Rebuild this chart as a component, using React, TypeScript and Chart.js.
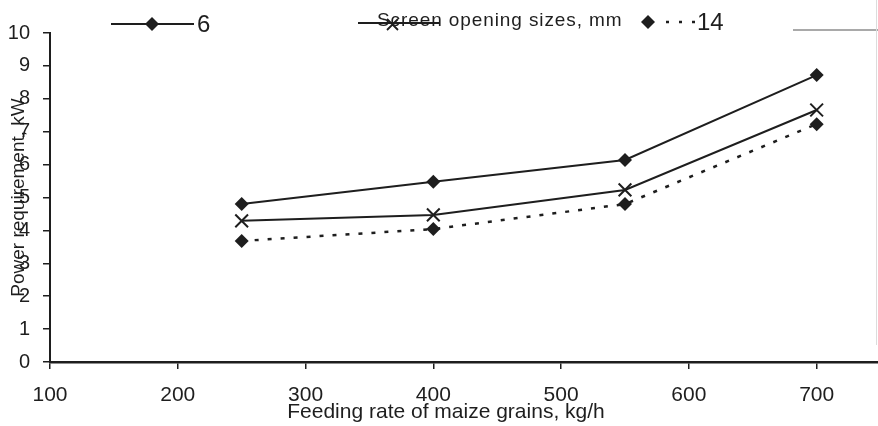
import React, { useEffect, useRef } from "react";
import { Chart, registerables } from "chart.js";

Chart.register(...registerables);

const feedRates = [250, 400, 550, 700];
const power6 = [4.8, 5.48, 6.14, 8.72];
const power10 = [4.29, 4.47, 5.23, 7.66];
const power14 = [3.68, 4.04, 4.8, 7.23];
const seriesLabels = ["6", "10", "14"];
const legendTitle = "Screen opening sizes, mm";
const xTitle = "Feeding rate of maize grains, kg/h";
const yTitle = "Power requirement, kW";

const INK = "#1e1e1e";
const FONT = '"Liberation Sans", Arial, sans-serif';

function diamond(ctx: CanvasRenderingContext2D, x: number, y: number, r: number) {
  ctx.beginPath();
  ctx.moveTo(x, y - r);
  ctx.lineTo(x + r, y);
  ctx.lineTo(x, y + r);
  ctx.lineTo(x - r, y);
  ctx.closePath();
  ctx.fillStyle = INK;
  ctx.fill();
}

const legendPlugin = {
  id: "customLegend",
  afterDraw(chart: any) {
    const ctx: CanvasRenderingContext2D = chart.ctx;
    ctx.save();
    ctx.strokeStyle = INK;
    ctx.fillStyle = INK;
    const y = 24;
    // series 6
    ctx.lineWidth = 2;
    ctx.beginPath();
    ctx.moveTo(111, y);
    ctx.lineTo(194, y);
    ctx.stroke();
    diamond(ctx, 152, y, 7);
    ctx.font = `24px ${FONT}`;
    ctx.textBaseline = "middle";
    ctx.textAlign = "left";
    ctx.fillText(seriesLabels[0], 197, y + 1);
    // series 10
    ctx.lineWidth = 2;
    ctx.beginPath();
    ctx.moveTo(358, 23);
    ctx.lineTo(440, 23);
    ctx.stroke();
    ctx.lineWidth = 1.8;
    ctx.beginPath();
    ctx.moveTo(387, 19);
    ctx.lineTo(398, 30);
    ctx.moveTo(398, 19);
    ctx.lineTo(387, 30);
    ctx.stroke();
    // legend title
    ctx.font = `19px ${FONT}`;
    try {
      (ctx as any).letterSpacing = "0.9px";
    } catch (e) {}
    ctx.fillText(legendTitle, 377, 21);
    try {
      (ctx as any).letterSpacing = "0px";
    } catch (e) {}
    // series 14
    diamond(ctx, 648, 22, 7);
    ctx.setLineDash([3, 10]);
    ctx.lineWidth = 2.5;
    ctx.beginPath();
    ctx.moveTo(666, 22);
    ctx.lineTo(696, 22);
    ctx.stroke();
    ctx.setLineDash([]);
    ctx.font = `24px ${FONT}`;
    ctx.fillText(seriesLabels[2], 697, 23);
    // x-axis title (slightly left of centre, as in the original)
    ctx.font = `21px ${FONT}`;
    ctx.textAlign = "center";
    ctx.fillText(xTitle, 446, 412);
    // box fragment at right
    ctx.strokeStyle = "#555";
    ctx.lineWidth = 1.2;
    ctx.beginPath();
    ctx.moveTo(793, 30);
    ctx.lineTo(878, 30);
    ctx.stroke();
    ctx.strokeStyle = "#dcdcdc";
    ctx.lineWidth = 1;
    ctx.beginPath();
    ctx.moveTo(876.5, 0);
    ctx.lineTo(876.5, 345);
    ctx.stroke();
    ctx.restore();
  },
};

export default function App() {
  const ref = useRef<HTMLCanvasElement | null>(null);
  useEffect(() => {
    if (!ref.current) return;
    const mk = (vals: number[]) => feedRates.map((x, i) => ({ x, y: vals[i] }));
    const chart = new Chart(ref.current, {
      type: "line",
      data: {
        datasets: [
          {
            label: seriesLabels[0],
            data: mk(power6),
            borderColor: INK,
            backgroundColor: INK,
            borderWidth: 2,
            pointStyle: "rectRot",
            pointRadius: 7,
            pointBorderWidth: 0,
            pointBackgroundColor: INK,
          },
          {
            label: seriesLabels[1],
            data: mk(power10),
            borderColor: INK,
            backgroundColor: INK,
            borderWidth: 2,
            pointStyle: "crossRot",
            pointRadius: 9,
            pointBorderWidth: 2,
          },
          {
            label: seriesLabels[2],
            data: mk(power14),
            borderColor: INK,
            backgroundColor: INK,
            borderWidth: 2.5,
            borderDash: [4, 9],
            pointStyle: "rectRot",
            pointRadius: 7,
            pointBorderWidth: 0,
            pointBackgroundColor: INK,
          },
        ],
      },
      options: {
        responsive: false,
        animation: false,
        layout: { autoPadding: false, padding: { top: 33, left: 0, right: 0, bottom: 0 } },
        plugins: { legend: { display: false }, tooltip: { enabled: false } },
        elements: { line: { tension: 0 } },
        scales: {
          x: {
            type: "linear",
            min: 100,
            max: 748,
            afterFit: (s: any) => {
              s.height = 64;
              s.paddingLeft = 0;
              s.paddingRight = 0;
            },
            ticks: {
              stepSize: 100,
              includeBounds: false,
              color: INK,
              font: { family: FONT, size: 21 },
              padding: 14,
              maxRotation: 0,
            },
            grid: { display: true, drawOnChartArea: false, tickLength: 7, color: INK, lineWidth: 1.5 },
            border: { display: true, color: INK, width: 2.5 },
            title: { display: false },
          },
          y: {
            min: 0,
            max: 10,
            afterFit: (s: any) => {
              s.width = 50;
              s.paddingTop = 0;
              s.paddingBottom = 0;
            },
            ticks: {
              stepSize: 1,
              color: INK,
              font: { family: FONT, size: 20 },
              padding: 13,
            },
            grid: { display: true, drawOnChartArea: false, tickLength: 7, color: INK, lineWidth: 1.5 },
            border: { display: true, color: INK, width: 2 },
            title: {
              display: true,
              text: yTitle,
              color: INK,
              font: { family: FONT, size: 19 },
              padding: { top: 7, bottom: 0 },
            },
          },
        },
      },
      plugins: [legendPlugin],
    });
    return () => chart.destroy();
  }, []);
  return (
    <div style={{ position: "fixed", left: 0, top: 0, width: 878, height: 426, background: "#fff" }}>
      <canvas ref={ref} width={878} height={426} style={{ width: 878, height: 426 }} />
    </div>
  );
}
